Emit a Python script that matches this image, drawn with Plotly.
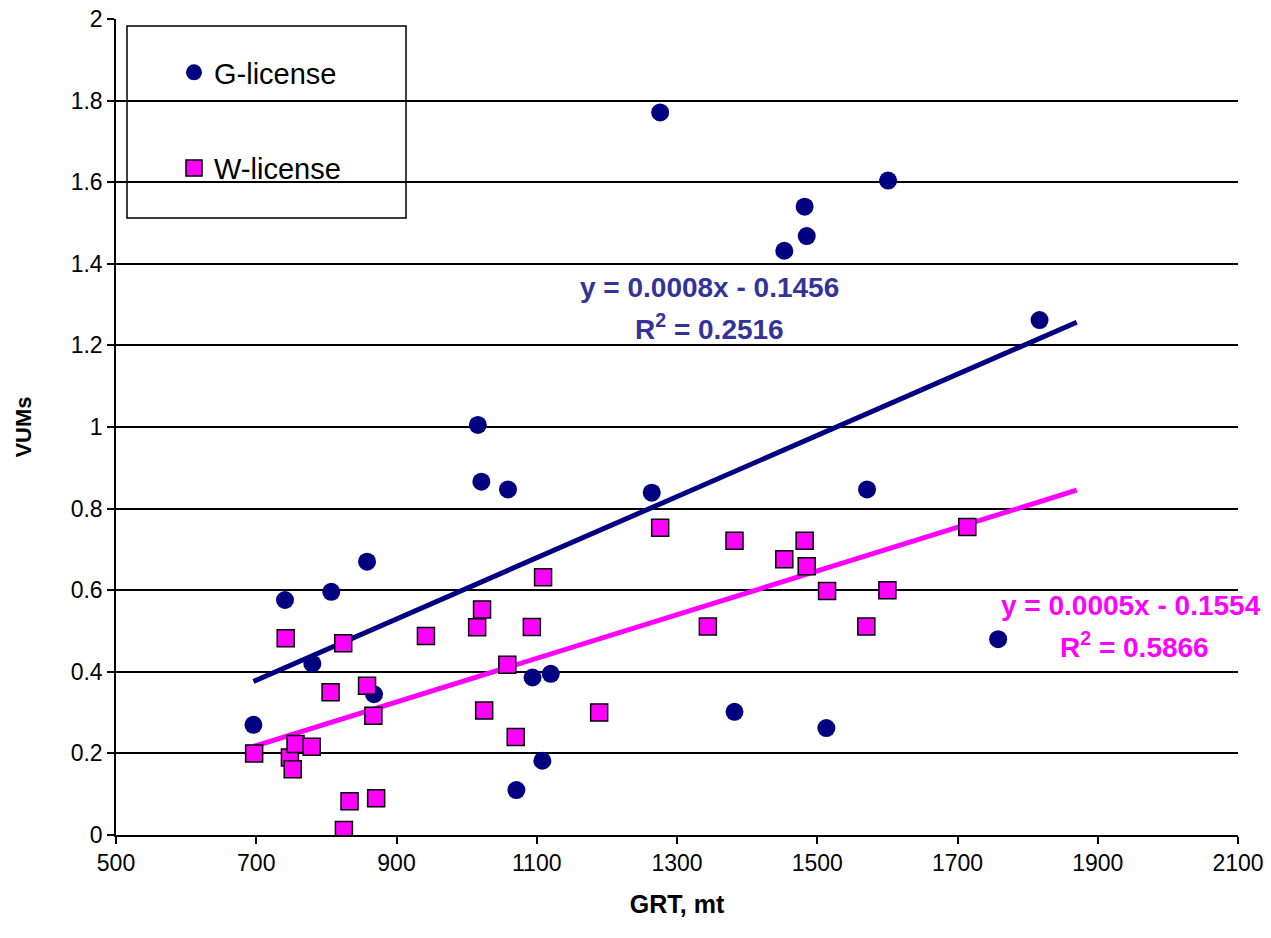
import numpy as np
import plotly.graph_objects as go

# ---- data ----
g_grt = [696, 741, 780, 807, 858, 868, 1016, 1021, 1059, 1071, 1094, 1108, 1120,
         1264, 1276, 1382, 1453, 1482, 1485, 1513, 1571, 1601, 1758, 1817]
g_vums = [0.27, 0.576, 0.42, 0.596, 0.67, 0.345, 1.005, 0.866, 0.847, 0.11, 0.386, 0.182, 0.395,
          0.839, 1.771, 0.302, 1.432, 1.54, 1.468, 0.262, 0.847, 1.604, 0.48, 1.262]

w_grt = [697, 742, 748, 752, 756, 779, 806, 824, 825, 833, 858, 867, 871, 942,
         1015, 1022, 1025, 1058, 1070, 1093, 1109, 1189, 1276, 1344, 1382, 1453,
         1482, 1485, 1514, 1570, 1600, 1714]
w_vums = [0.2, 0.482, 0.19, 0.161, 0.223, 0.216, 0.35, 0.47, 0.012, 0.083, 0.366, 0.292, 0.09, 0.488,
          0.509, 0.553, 0.305, 0.417, 0.24, 0.51, 0.632, 0.3, 0.753, 0.511, 0.721, 0.676,
          0.721, 0.659, 0.598, 0.511, 0.6, 0.755]

# trendline coefficients (slope, intercept) as drawn in the reference
g_trend = [0.00075, -0.1456]
w_trend = [0.000535, -0.1554]
trend_x_end = 1870

g_eq = ["y = 0.0008x - 0.1456", "R<sup>2</sup> = 0.2516"]
w_eq = ["y = 0.0005x - 0.1554", "R<sup>2</sup> = 0.5866"]
x_ticks = [500, 700, 900, 1100, 1300, 1500, 1700, 1900, 2100]
y_ticks = [0, 0.2, 0.4, 0.6, 0.8, 1, 1.2, 1.4, 1.6, 1.8, 2]

NAVY = "#000080"
MAG = "#FF00FF"
FONT = "Liberation Sans, Arial, sans-serif"

def trend(x, coef):
    xs = np.array([min(x), trend_x_end], dtype=float)
    return xs, coef[0] * xs + coef[1]

fig = go.Figure()

gx, gy = trend(g_grt, g_trend)
wx, wy = trend(w_grt, w_trend)
fig.add_trace(go.Scatter(x=gx, y=gy, mode="lines", line=dict(color=NAVY, width=5),
                         showlegend=False, hoverinfo="skip"))
fig.add_trace(go.Scatter(x=wx, y=wy, mode="lines", line=dict(color=MAG, width=5),
                         showlegend=False, hoverinfo="skip"))

fig.add_trace(go.Scatter(x=g_grt, y=g_vums, mode="markers", name="G-license",
                         legendgroup="g",
                         marker=dict(symbol="circle", size=18, color=NAVY,
                                     line=dict(width=0))))
fig.add_trace(go.Scatter(x=w_grt, y=w_vums, mode="markers", name="W-license",
                         legendgroup="w",
                         marker=dict(symbol="square", size=17, color=MAG,
                                     line=dict(width=1.5, color="black"))))

# legend box
fig.add_shape(type="rect", xref="paper", yref="paper",
              x0=(127 - 116) / 1122, x1=(406 - 116) / 1122,
              y0=(835 - 218) / 816, y1=(835 - 26) / 816,
              line=dict(color="black", width=1.5), fillcolor="white", layer="below")

ann = []
for i, t in enumerate(g_eq):
    ann.append(dict(x=1347, y=[1.343, 1.245][i], xref="x", yref="y", text=t, showarrow=False,
                    font=dict(family=FONT, size=28, color="#333399", weight="bold")))
for i, t in enumerate(w_eq):
    ann.append(dict(x=[1948, 1953][i], y=[0.562, 0.465][i], xref="x", yref="y", text=t, showarrow=False,
                    font=dict(family=FONT, size=28, color=MAG, weight="bold")))

fig.update_layout(
    width=1271, height=938,
    margin=dict(l=116, r=33, t=19, b=103, autoexpand=False),
    paper_bgcolor="white", plot_bgcolor="white",
    font=dict(family=FONT, size=23, color="black"),
    annotations=ann,
    showlegend=True,
    legend=dict(x=(174 - 116) / 1122, y=(835 - 47) / 816, xanchor="left", yanchor="top",
                bgcolor="rgba(0,0,0,0)", borderwidth=0,
                font=dict(family=FONT, size=29, color="black"),
                tracegroupgap=55, traceorder="grouped"),
    xaxis=dict(range=[500, 2100], tickvals=x_ticks, ticks="outside", ticklen=7,
               tickcolor="black", tickwidth=1.5, showline=True, linecolor="black",
               linewidth=1.5, showgrid=False, zeroline=False, automargin=False,
               title=dict(text="<b>GRT, mt</b>", font=dict(size=25), standoff=20),
               tickfont=dict(size=23)),
    yaxis=dict(range=[0, 2], tickvals=y_ticks, ticks="outside", ticklen=7,
               tickcolor="black", tickwidth=1.5, showline=True, linecolor="black",
               linewidth=1.5, showgrid=True, gridcolor="black", gridwidth=1.8,
               zeroline=False, automargin=False,
               title=dict(text="<b>VUMs</b>", font=dict(size=22), standoff=33),
               tickfont=dict(size=23)),
)

fig.write_html("out.html")
